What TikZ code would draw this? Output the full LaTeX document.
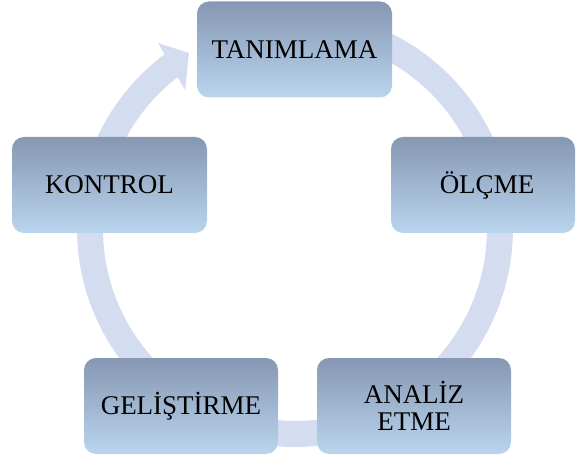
\documentclass[tikz,border=0pt]{standalone}
\usepackage{fontspec}
\setmainfont{Liberation Serif}
\definecolor{ringc}{RGB}{211,221,239}
\definecolor{boxtop}{RGB}{134,151,178}
\definecolor{boxbot}{RGB}{186,213,238}
\begin{document}
\begin{tikzpicture}[x=1pt,y=-1pt,
  stagebox/.style={rounded corners=12pt, top color=boxtop, bottom color=boxbot,
    draw=none, text=black, font=\fontsize{27}{27}\selectfont, align=center,
    inner sep=0pt, minimum height=96pt},
  ringfill/.style={fill=ringc, draw=none}]
\useasboundingbox (0,0) rectangle (576,457);
% ring
\fill[ringc] plot[domain=-110:234,samples=160] ({295+218*cos(\x)},{229+218*sin(\x)})
  -- plot[domain=234:-110,samples=160] ({295+192*cos(\x)},{229+192*sin(\x)}) -- cycle;
% arrow head
\coordinate (hw1) at (158,43);
\coordinate (htip) at (189,53);
\coordinate (hw2) at (185,90);
\fill[ringc] (hw1) -- (htip) -- (hw2) -- cycle;
% boxes
\node[stagebox, minimum width=195pt] (tan) at (294.5,49.5) {TANIMLAMA};
\node[stagebox, minimum width=184pt] (olc) at (483,185) {\hspace*{8pt}ÖLÇME};
\node[stagebox, minimum width=194pt] (ana) at (414,406) {ANALİZ\\ETME};
\node[stagebox, minimum width=194pt] (gel) at (181,406) {GELİŞTİRME};
\node[stagebox, minimum width=195pt] (kon) at (109.5,185) {KONTROL};
\end{tikzpicture}
\end{document}
